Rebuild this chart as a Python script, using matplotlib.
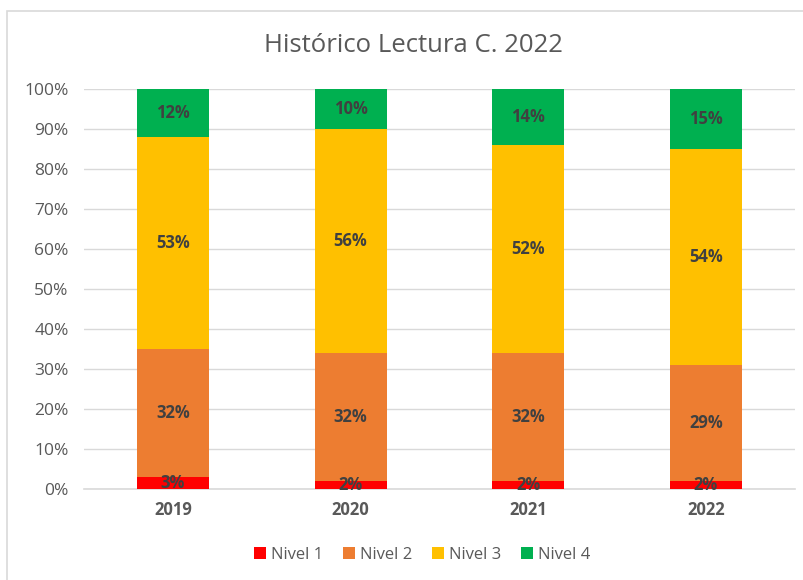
import numpy as np
import matplotlib.pyplot as plt
from matplotlib.patches import Rectangle
from matplotlib.ticker import PercentFormatter

years = ["2019", "2020", "2021", "2022"]
nivel_1 = [3, 2, 2, 2]
nivel_2 = [32, 32, 32, 29]
nivel_3 = [53, 56, 52, 54]
nivel_4 = [12, 10, 14, 15]

series = [
    ("Nivel 1", nivel_1, "#FF0000"),
    ("Nivel 2", nivel_2, "#ED7D31"),
    ("Nivel 3", nivel_3, "#FFC000"),
    ("Nivel 4", nivel_4, "#00B050"),
]

plt.rcParams["font.family"] = ["Open Sans", "DejaVu Sans"]

fig = plt.figure(figsize=(8.04, 5.80), dpi=100)
ax = fig.add_axes([0.1045, 0.157, 0.884, 0.6897])

# light frame around the chart area
fig.patches.append(Rectangle((7 / 804, -0.01), 1.0, 1 - 11 / 580 + 0.01,
                             transform=fig.transFigure, fill=False,
                             edgecolor="#D9D9D9", linewidth=1.2))

x = np.arange(len(years))
bottom = np.zeros(len(years))
for name, vals, color in series:
    vals = np.array(vals, dtype=float)
    ax.bar(x, vals, width=0.405, bottom=bottom, color=color, label=name, zorder=3)
    for xi, b, v in zip(x, bottom, vals):
        ax.text(xi, b + v / 2, f"{int(v)}%", ha="center", va="center",
                fontsize=12, fontweight="bold", color="#404040", zorder=4)
    bottom += vals

ax.set_xlim(-0.5, len(years) - 0.5)
ax.set_ylim(0, 100)
ax.set_yticks(np.arange(0, 101, 10))
ax.yaxis.set_major_formatter(PercentFormatter(decimals=0))
ax.set_xticks(x)
ax.set_xticklabels(years, fontweight="bold", fontsize=12, color="#595959")
ax.tick_params(axis="y", labelsize=12.5, labelcolor="#595959", length=0, pad=11)
ax.tick_params(axis="x", length=0, pad=9)
ax.grid(axis="y", color="#D9D9D9", linewidth=1, zorder=0)
for side in ["top", "right", "left"]:
    ax.spines[side].set_visible(False)
ax.spines["bottom"].set_color("#D9D9D9")
ax.spines["bottom"].set_linewidth(1.2)

fig.text(0.514, 0.922, "Histórico Lectura C. 2022", ha="center", va="center",
         fontsize=18.5, color="#595959")

leg = fig.legend(loc="center", bbox_to_anchor=(0.525, 0.043), ncol=4,
                 frameon=False, fontsize=12, handlelength=0.7, handleheight=0.7,
                 handletextpad=0.3, columnspacing=1.2)
for t in leg.get_texts():
    t.set_color("#595959")

fig.savefig("out.png", dpi=100)
